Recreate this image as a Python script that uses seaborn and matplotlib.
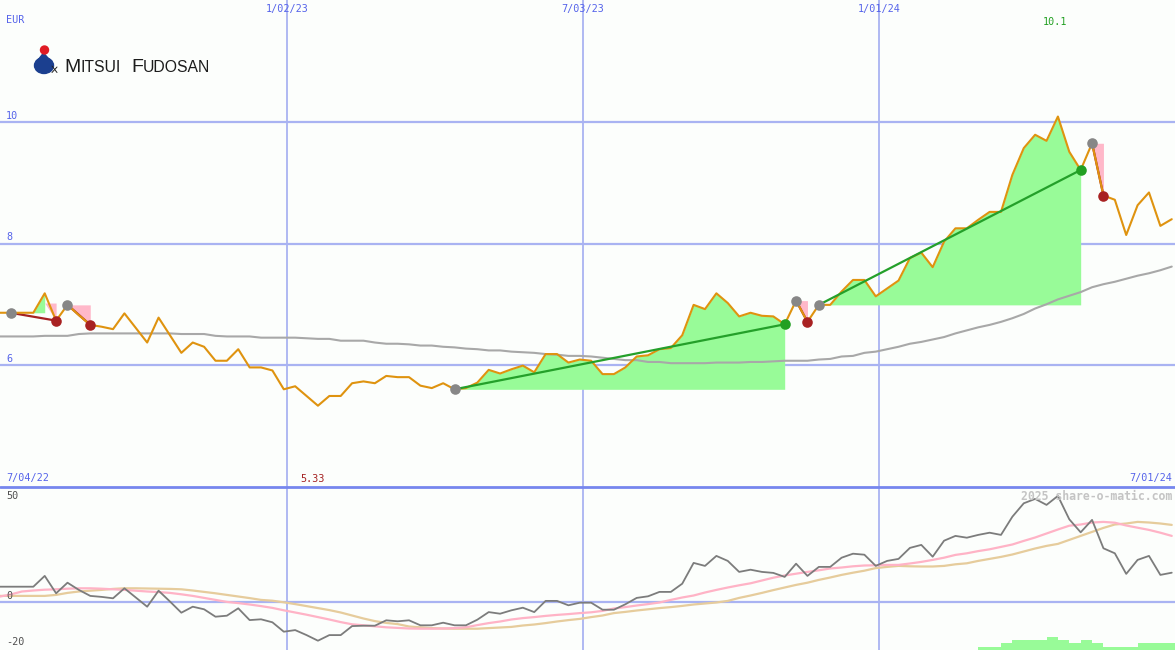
import numpy as np
import pandas as pd
import matplotlib
matplotlib.use('Agg')
import matplotlib.pyplot as plt
import matplotlib.transforms as mtransforms
from matplotlib.patches import Circle, Ellipse, Polygon
import seaborn as sns

# ---------------- data ----------------
dates = pd.date_range('2022-07-09', periods=104, freq='7D')

price = [6.86, 6.86, 6.86, 6.86, 7.18, 6.73, 6.99, 6.82, 6.66, 6.63,
         6.59, 6.85, 6.61, 6.37, 6.78, 6.49, 6.20, 6.37, 6.30, 6.07,
         6.07, 6.26, 5.96, 5.96, 5.91, 5.60, 5.65, 5.49, 5.33, 5.49,
         5.49, 5.70, 5.73, 5.70, 5.82, 5.80, 5.80, 5.66, 5.62, 5.70,
         5.60, 5.62, 5.71, 5.92, 5.86, 5.93, 5.99, 5.88, 6.18, 6.18,
         6.04, 6.09, 6.07, 5.85, 5.85, 5.96, 6.14, 6.16, 6.26, 6.28,
         6.49, 6.99, 6.92, 7.18, 7.02, 6.80, 6.86, 6.81, 6.80, 6.67,
         7.06, 6.71, 6.99, 6.99, 7.21, 7.40, 7.40, 7.13, 7.26, 7.39,
         7.76, 7.85, 7.61, 8.03, 8.25, 8.25, 8.39, 8.52, 8.52, 9.13,
         9.57, 9.79, 9.69, 10.09, 9.51, 9.21, 9.65, 8.79, 8.72, 8.14,
         8.63, 8.84, 8.29, 8.40]

sma = [6.47, 6.47, 6.47, 6.47, 6.48, 6.48, 6.48, 6.51, 6.52, 6.52,
       6.52, 6.52, 6.52, 6.52, 6.52, 6.52, 6.51, 6.51, 6.51, 6.48,
       6.47, 6.47, 6.47, 6.45, 6.45, 6.45, 6.45, 6.44, 6.43, 6.43,
       6.40, 6.40, 6.40, 6.37, 6.35, 6.35, 6.34, 6.32, 6.32, 6.30,
       6.29, 6.27, 6.26, 6.24, 6.24, 6.22, 6.21, 6.20, 6.18, 6.17,
       6.15, 6.15, 6.14, 6.12, 6.10, 6.08, 6.08, 6.05, 6.05, 6.03,
       6.03, 6.03, 6.03, 6.04, 6.04, 6.04, 6.05, 6.05, 6.06, 6.07,
       6.07, 6.07, 6.09, 6.10, 6.14, 6.15, 6.20, 6.22, 6.26, 6.30,
       6.35, 6.38, 6.42, 6.46, 6.52, 6.57, 6.62, 6.66, 6.71, 6.77,
       6.84, 6.93, 7.00, 7.08, 7.14, 7.20, 7.28, 7.33, 7.37, 7.42,
       7.47, 7.51, 7.56, 7.62]

momentum = [7.5, 7.5, 7.5, 7.5, 12.9, 4.2, 9.5, 5.9, 2.9, 2.4,
            1.7, 6.7, 2.1, -2.5, 5.5, 0.1, -5.5, -2.5, -3.8, -7.5,
            -7.0, -3.3, -9.2, -8.8, -10.3, -15.0, -14.2, -16.7, -19.5, -16.7,
            -16.7, -12.2, -12.0, -12.0, -9.3, -9.8, -9.3, -11.8, -11.8, -10.5,
            -11.8, -11.8, -9.0, -5.2, -6.0, -4.3, -3.0, -5.2, 0.4, 0.4,
            -1.8, -0.5, -0.5, -4.0, -4.0, -1.3, 1.9, 2.7, 4.9, 4.9,
            9.0, 19.4, 17.9, 22.9, 20.4, 14.9, 16.0, 14.9, 14.4, 12.4,
            19.0, 12.9, 17.4, 17.4, 22.0, 24.0, 23.5, 17.9, 20.4, 21.4,
            26.9, 28.4, 22.5, 30.5, 32.9, 32.0, 33.4, 34.5, 33.4, 42.5,
            49.2, 51.4, 48.4, 52.9, 41.2, 34.7, 40.9, 26.7, 24.2, 13.9,
            20.9, 22.9, 13.4, 14.5]

signal_fast = [2.5, 3.6, 5.1, 5.6, 6.0, 6.2, 6.5, 6.7, 6.7, 6.5,
               6.2, 5.9, 5.5, 5.1, 4.8, 4.4, 3.7, 2.9, 1.9, 0.9,
               -0.1, -0.7, -1.4, -2.2, -3.1, -4.3, -5.4, -6.5, -7.7, -8.9,
               -10.2, -11.3, -11.8, -12.3, -12.8, -13.1, -13.4, -13.5, -13.5, -13.4,
               -13.2, -12.8, -11.7, -10.7, -9.9, -8.9, -8.2, -7.7, -7.1, -6.6,
               -6.2, -5.7, -5.3, -4.6, -3.4, -2.7, -1.9, -1.2, -0.4, 0.9,
               2.1, 3.1, 4.6, 5.9, 7.1, 8.2, 9.2, 10.6, 12.0, 13.1,
               14.0, 14.9, 15.7, 16.6, 17.1, 17.7, 18.1, 18.2, 18.4, 18.4,
               19.1, 19.9, 20.9, 22.0, 23.4, 24.2, 25.3, 26.2, 27.4, 28.6,
               30.4, 32.1, 34.1, 36.1, 38.0, 38.6, 39.6, 39.9, 39.5, 38.1,
               37.0, 35.9, 34.5, 32.9]

signal_slow = [2.9, 2.9, 2.9, 2.9, 2.9, 3.4, 4.4, 5.1, 5.5, 5.9,
               6.4, 6.7, 6.7, 6.6, 6.5, 6.4, 6.2, 5.6, 4.9, 4.2,
               3.4, 2.6, 1.8, 0.9, 0.5, -0.3, -1.2, -2.2, -3.2, -4.2,
               -5.4, -6.9, -8.4, -9.7, -10.6, -11.2, -12.4, -12.8, -13.2, -13.4,
               -13.5, -13.5, -13.5, -13.2, -12.9, -12.6, -11.9, -11.4, -10.7, -9.9,
               -9.2, -8.6, -7.7, -6.9, -5.7, -5.1, -4.4, -3.8, -3.2, -2.7,
               -2.1, -1.4, -0.9, -0.4, 0.4, 1.9, 3.1, 4.4, 5.8, 7.1,
               8.4, 9.5, 10.9, 12.1, 13.4, 14.5, 15.5, 16.8, 17.4, 17.9,
               17.7, 17.6, 17.6, 17.9, 18.7, 19.2, 20.4, 21.4, 22.4, 23.6,
               25.1, 26.6, 27.9, 28.9, 30.9, 32.9, 34.9, 36.9, 38.6, 39.1,
               39.9, 39.6, 39.1, 38.4]

volume_recent = [1, 1, 2, 3, 3, 3, 4, 3, 2, 3, 2, 1, 1, 1, 2, 2, 2, 2]

price_ticks = [6, 8, 10]
osc_ticks = [50, 0, -20]
date_grid = ['2023-01-02', '2023-07-03', '2024-01-01']
date_grid_labels = ['1/02/23', '7/03/23', '1/01/24']
period_labels = ['7/04/22', '7/01/24']
currency = 'EUR'
company = [('M', 'big'), ('ITSUI', 'small'), ('F', 'big'), ('UDOSAN', 'small')]
watermark = '2025 share-o-matic.com'

# signal events (week indices)
gray_sig = [1, 6, 40, 70, 72, 96]
red_sig = [5, 8, 71, 97]
green_sig = [69, 95]
win_lines = [(40, 69), (72, 95)]
loss_lines = [(1, 5), (6, 8), (70, 71), (96, 97)]
green_fills = [(1, 5), (40, 69), (72, 95)]
pink_fills = [(4, 5, 7.02), (6, 8, 6.99), (70, 71, 7.06), (96, 97, 9.65)]

# ---------------- style ----------------
BG = '#fcfefc'
GRID = '#a9b3f2'
SEP = '#7686ee'
BLUE_TXT = '#5563ea'
ORANGE = '#df930f'
SMA_C = '#a8a8a8'
MOM_C = '#7c7c7c'
PINK_C = '#ffb3c6'
TAN_C = '#e6cc9c'
FILL_G = '#98fb98'
FILL_P = '#ffb8c9'
GREEN_L = '#24a02a'
DRED = '#a52222'

sns.set_theme(style='white')
plt.rcParams['font.family'] = ['DejaVu Sans Mono', 'DejaVu Sans']

W, H = 1175, 650
fig = plt.figure(figsize=(W / 100, H / 100), dpi=100, facecolor=BG)
sep_px = 487
ax = fig.add_axes([0, (H - sep_px) / H, 1, sep_px / H])
axb = fig.add_axes([0, 0, 1, (H - sep_px) / H])
for a in (ax, axb):
    a.set_facecolor(BG)
    for s in a.spines.values():
        s.set_visible(False)

x0 = pd.Timestamp('2024-07-01') - pd.Timedelta(days=722.5)
x1 = pd.Timestamp('2024-07-01')
price = np.array(price)
d = np.array(dates)

# ---- price panel ----
for v in price_ticks:
    ax.axhline(v, color=GRID, lw=1.6, zorder=0.5)
for g in date_grid:
    ax.axvline(pd.Timestamp(g), color=GRID, lw=1.3, zorder=0.5)
    axb.axvline(pd.Timestamp(g), color=GRID, lw=1.3, zorder=0.5)

for a_, b_ in green_fills:
    seg = price[a_:b_ + 1]
    base = price[a_]
    ax.fill_between(d[a_:b_ + 1], seg, base, where=seg >= base,
                    color=FILL_G, lw=0, zorder=1)
for a_, b_, lvl in pink_fills:
    seg = price[a_:b_ + 1]
    ax.fill_between(d[a_:b_ + 1], np.minimum(seg, lvl), lvl,
                    color=FILL_P, lw=0, zorder=1)

sns.lineplot(x=dates, y=sma, ax=ax, color=SMA_C, linewidth=1.5, zorder=2)
for a_, b_ in loss_lines:
    sns.lineplot(x=[dates[a_], dates[b_]], y=[price[a_], price[b_]], ax=ax,
                 color=DRED, linewidth=1.6, zorder=3)
sns.lineplot(x=dates, y=price, ax=ax, color=ORANGE, linewidth=1.5, zorder=4)
for a_, b_ in win_lines:
    sns.lineplot(x=[dates[a_], dates[b_]], y=[price[a_], price[b_]], ax=ax,
                 color=GREEN_L, linewidth=1.6, zorder=5)
for idx, col in ((gray_sig, '#878787'), (red_sig, '#a82222'), (green_sig, '#22a022')):
    sns.scatterplot(x=d[idx], y=price[idx], ax=ax, color=col, s=58,
                    linewidth=0, zorder=6)

ax.set_xlim(x0, x1)
ax.set_ylim(10 - 365 / 60.75, 10 + 122 / 60.75)
ax.set_xticks([]); ax.set_yticks([])
ax.set_xlabel(''); ax.set_ylabel('')

# ---- oscillator panel ----
axb.axhline(0, color=GRID, lw=1.6, zorder=0.5)
sns.lineplot(x=dates, y=signal_slow, ax=axb, color=TAN_C, linewidth=1.6, zorder=2)
sns.lineplot(x=dates, y=signal_fast, ax=axb, color=PINK_C, linewidth=1.6, zorder=3)
sns.lineplot(x=dates, y=momentum, ax=axb, color=MOM_C, linewidth=1.3, zorder=4)
axb.set_xlim(x0, x1)
axb.set_ylim(-24.15, 57.35)
axb.set_xticks([]); axb.set_yticks([])
axb.set_xlabel(''); axb.set_ylabel('')

axv = axb.twinx()
axv.bar(d[-len(volume_recent):], volume_recent, width=np.timedelta64(7, 'D'),
        align='edge', color=FILL_G, lw=0, zorder=1)
axv.set_ylim(0, 50)
axv.set_xlim(x0, x1)
axv.set_yticks([])
for s in axv.spines.values():
    s.set_visible(False)

# ---- overlay (texts, separator, logo) ----
axo = fig.add_axes([0, 0, 1, 1])
axo.set_xlim(0, W); axo.set_ylim(H, 0)
axo.axis('off'); axo.patch.set_alpha(0)

axo.plot([0, W], [sep_px, sep_px], color=SEP, lw=2.0)

fs = 7.3
axo.text(6, 20, currency, color=BLUE_TXT, fontsize=fs, va='center', ha='left')
for v in price_ticks:
    ypix = 122 + (10 - v) * 60.75
    axo.text(6, ypix - 6, str(v), color=BLUE_TXT, fontsize=fs, va='center', ha='left')
bl = mtransforms.blended_transform_factory(ax.transData, axo.transData)
for g, lab in zip(date_grid, date_grid_labels):
    axo.text(pd.Timestamp(g), 9, lab, color=BLUE_TXT, fontsize=fs,
             va='center', ha='center', transform=bl)
axo.text(6, 478.5, period_labels[0], color=BLUE_TXT, fontsize=fs, va='center', ha='left')
axo.text(1172, 478.5, period_labels[1], color=BLUE_TXT, fontsize=fs, va='center', ha='right')
imax = int(np.argmax(price)); imin = int(np.argmin(price))
axo.text(dates[imax] - pd.Timedelta(days=2), 22, f'{price[imax]:.1f}', color='#22a022',
         fontsize=fs, va='center', ha='center', transform=bl)
axo.text(dates[imin] - pd.Timedelta(days=3), 478.5, f'{price[imin]:.2f}', color='#a52222',
         fontsize=fs, va='center', ha='center', transform=bl)
for v, yp in zip(osc_ticks, [496, 596, 642]):
    axo.text(6, yp, str(v), color='#505050', fontsize=fs, va='center', ha='left')
axo.text(1172, 496, watermark, color='#c4c4c4', fontsize=8.3, fontweight='bold',
         va='center', ha='right')

# logo
axo.add_patch(Ellipse((44, 65.5), 19, 16, color='#1b3f8f', zorder=5))
axo.add_patch(Polygon([[36.5, 62], [43.5, 53], [51.5, 62]], closed=True, color='#1b3f8f', zorder=5))
axo.add_patch(Circle((44.5, 50), 4, color='#e01b24', zorder=6))
axo.plot([52, 57], [66, 72.5], color='#222222', lw=0.7, zorder=6)
axo.plot([52, 57], [72.5, 67], color='#222222', lw=0.7, zorder=6)
logo_x = {'M': 64, 'ITSUI': 80, 'F': 131, 'UDOSAN': 143}
for txt, kind in company:
    axo.text(logo_x[txt], 72.5, txt, fontsize=14 if kind == 'big' else 11.3,
             family='Liberation Sans', color='#1c1c1c', va='baseline', ha='left')

fig.savefig('out.png', dpi=100, facecolor=BG)
